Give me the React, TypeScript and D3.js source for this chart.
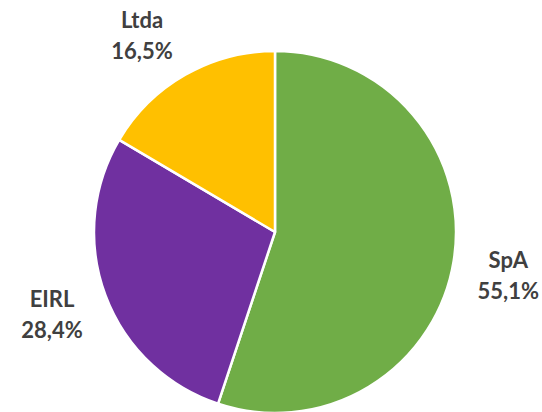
import React from "react";
import * as d3 from "d3";

const categories = ["SpA", "EIRL", "Ltda"];
const values = [55.1, 28.4, 16.5];
const valueLabels = ["55,1%", "28,4%", "16,5%"];
const colors = ["#70AD47", "#7030A0", "#FFC000"];

export default function App() {
  const width = 542;
  const height = 412;
  const cx = 275;
  const cy = 232;
  const r = 181;
  const gap = 23;
  const fontSize = 22;
  const data = categories.map((c, i) => ({ c, v: values[i], l: valueLabels[i], col: colors[i] }));
  const pie = d3.pie<any>().value((d) => d.v).sort(null);
  const arcs = pie(data);
  const arc = d3.arc<any>().innerRadius(0).outerRadius(r);
  return (
    <svg width={width} height={height} style={{ position: "absolute", left: 0, top: 0 }}>
      <rect width={width} height={height} fill="#ffffff" />
      <g transform={`translate(${cx},${cy})`}>
        {arcs.map((a, i) => (
          <path key={i} d={arc(a) as string} fill={a.data.col} stroke="#ffffff" strokeWidth={2.5} strokeLinejoin="round" />
        ))}
        {arcs.map((a, i) => {
          const mid = (a.startAngle + a.endAngle) / 2;
          const dx = Math.sin(mid);
          const dy = -Math.cos(mid);
          const halfW = Math.max(a.data.c.length, a.data.l.length) * fontSize * 0.29;
          const halfH = 15;
          const x = (r + gap) * dx + Math.sign(dx) * halfW;
          const y = (r + gap) * dy + Math.sign(dy) * halfH;
          return (
            <text key={"t" + i} x={x} y={y} textAnchor="middle" fill="#404040"
              fontFamily="Lato, 'Open Sans', sans-serif" fontWeight="bold" fontSize={fontSize}>
              <tspan x={x} dy={-12}>{a.data.c}</tspan>
              <tspan x={x} dy={31}>{a.data.l}</tspan>
            </text>
          );
        })}
      </g>
    </svg>
  );
}
